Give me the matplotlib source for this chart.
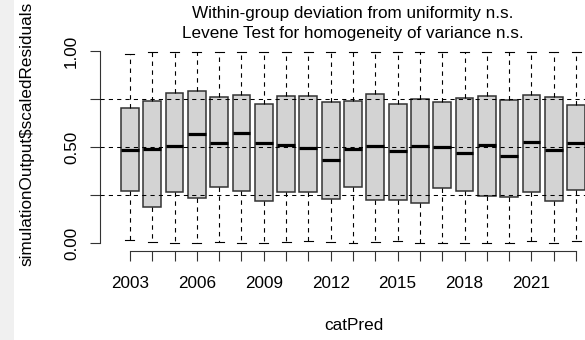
import matplotlib
matplotlib.use("Agg")
import matplotlib.pyplot as plt
from matplotlib.patches import Rectangle

# scaled residuals per year, five-number summaries
years = list(range(2003, 2024))
whisker_hi = [0.985, 0.993, 0.993, 0.993, 0.993, 0.993, 0.993, 0.993, 0.993, 0.993, 0.993,
              0.993, 0.993, 0.993, 0.993, 0.993, 0.993, 0.993, 0.993, 0.993, 0.993]
q3 = [0.705, 0.741, 0.783, 0.792, 0.759, 0.771, 0.724, 0.766, 0.766, 0.736, 0.741,
      0.778, 0.722, 0.750, 0.734, 0.757, 0.766, 0.747, 0.771, 0.762, 0.717]
medians = [0.483, 0.491, 0.505, 0.568, 0.521, 0.575, 0.523, 0.510, 0.493, 0.431, 0.491,
           0.505, 0.481, 0.503, 0.500, 0.470, 0.512, 0.451, 0.528, 0.483, 0.523]
q1 = [0.269, 0.189, 0.267, 0.236, 0.290, 0.269, 0.219, 0.267, 0.266, 0.231, 0.293,
      0.222, 0.222, 0.210, 0.285, 0.273, 0.247, 0.238, 0.267, 0.219, 0.276]
whisker_lo = [0.014, 0.007, 0.001, 0.001, 0.007, 0.002, 0.002, 0.003, 0.010, 0.003, 0.001,
              0.003, 0.009, 0.001, 0.001, 0.001, 0.001, 0.001, 0.009, 0.002, 0.012]
year_labels = [str(y) if (y - 2003) % 3 == 0 else "" for y in years]
y_ticks = [0, 0.25, 0.5, 0.75, 1.0]
y_labels = ["0.00", "", "0.50", "", "1.00"]
title_lines = ["Within-group deviation from uniformity n.s.",
               "Levene Test for homogeneity of variance n.s."]

plt.rcParams["font.family"] = ["Liberation Sans", "DejaVu Sans"]
fs = 12.3

fig = plt.figure(figsize=(5.85, 3.4), dpi=100)
fig.patch.set_facecolor("white")
# grey strip down the left edge
fig.patches.append(Rectangle((0, 0), 14 / 585, 1, transform=fig.transFigure,
                             facecolor="#f0f0f0", edgecolor="none", zorder=0))

ax = fig.add_axes([100 / 585, 89 / 340, 506 / 585, 208 / 340])
ax.set_facecolor("none")

stats = []
for i in range(len(years)):
    stats.append({"med": medians[i], "q1": q1[i], "q3": q3[i],
                  "whislo": whisker_lo[i], "whishi": whisker_hi[i], "fliers": []})

pos = list(range(1, len(years) + 1))
ax.bxp(stats, positions=pos, widths=0.8, capwidths=0.4, patch_artist=True,
       showfliers=False,
       boxprops=dict(facecolor="#d3d3d3", edgecolor="#333333", linewidth=1.1),
       whiskerprops=dict(color="black", linewidth=0.8, linestyle=(0, (4, 4))),
       capprops=dict(color="black", linewidth=0.8),
       medianprops=dict(color="black", linewidth=2.3, solid_capstyle="butt"))

for yv in [0.25, 0.5, 0.75]:
    ax.axhline(yv, color="black", linewidth=0.75, linestyle=(0, (4, 4)), zorder=5)

ax.set_xlim(-0.34, 22.34)
ax.set_ylim(-0.0417, 1.0417)

ax.set_xticks(pos)
ax.set_xticklabels(year_labels, fontsize=fs)
ax.set_yticks(y_ticks)
ax.set_yticklabels(y_labels, fontsize=fs, rotation=90, va="center")
ax.tick_params(axis="both", length=7.2, width=0.8, color="#333333")
ax.tick_params(axis="x", pad=11)
ax.tick_params(axis="y", pad=8)

for s in ["top", "right"]:
    ax.spines[s].set_visible(False)
ax.spines["left"].set_bounds(0, 1)
ax.spines["bottom"].set_bounds(1, 21)
for s in ["left", "bottom"]:
    ax.spines[s].set_linewidth(0.8)
    ax.spines[s].set_color("#333333")

fig.text(353 / 585, 1 - 18 / 340, title_lines[0], ha="center", va="baseline", fontsize=fs)
fig.text(353 / 585, 1 - 38 / 340, title_lines[1], ha="center", va="baseline", fontsize=fs)
fig.text(354 / 585, 1 - 325 / 340, "catPred", ha="center", va="center", fontsize=fs)
fig.text(27 / 585, 1 - 134 / 340, "simulationOutput$scaledResiduals", rotation=90,
         ha="center", va="center", fontsize=fs)

fig.savefig("out.png", dpi=100)
